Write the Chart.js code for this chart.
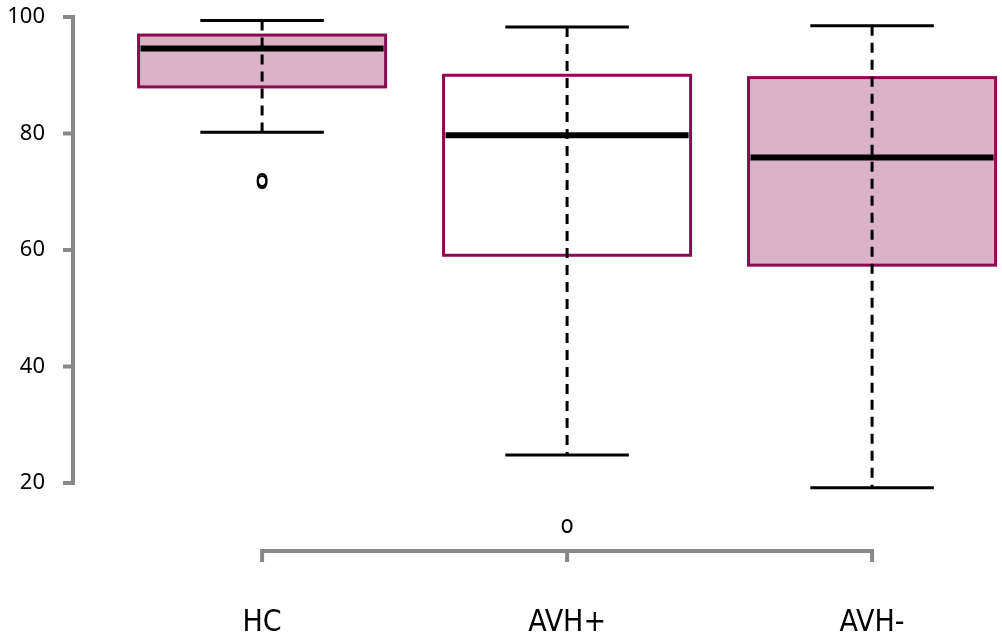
<!DOCTYPE html>
<html>
<head>
<meta charset="utf-8">
<style>
  html, body { margin: 0; padding: 0; background: #fff; }
  #wrap { width: 1002px; height: 636px; }
</style>
<script src="https://cdn.jsdelivr.net/npm/chart.js@4.4.1/dist/chart.umd.min.js"></script>
</head>
<body>
<div id="wrap"><canvas id="c"></canvas></div>
<script>
// box plot summaries
const groups = ['HC', 'AVH+', 'AVH-'];
const whiskerLow  = [80.2, 24.8, 19.2];
const quart1      = [88.0, 59.1, 57.4];
const medians     = [94.6, 79.7, 75.9];
const quart3      = [96.9, 90.0, 89.6];
const whiskerHigh = [99.4, 98.3, 98.5];
const outliers    = [[71.7, 72.0], [12.6], []];
const filled      = [true, false, true];
const yTicks      = [20, 40, 60, 80, 100];

const AXIS = '#888888';
const BORDER = '#8b0a50';
const FILL = '#dbb3c6';
const BOX_W = 0.81;

const boxPlot = {
    id: 'boxPlot',
    beforeDatasetsDraw(chart) {
        const { ctx, scales: { x, y } } = chart;
        ctx.save();

        // R-style detached axes
        ctx.strokeStyle = AXIS;
        ctx.lineWidth = 4;
        ctx.lineCap = 'butt';
        const yl = x.left;
        ctx.beginPath();
        ctx.moveTo(yl, y.getPixelForValue(yTicks[0]));
        ctx.lineTo(yl, y.getPixelForValue(yTicks[yTicks.length - 1]));
        yTicks.forEach(t => {
            const py = y.getPixelForValue(t);
            ctx.moveTo(yl + 2, py);
            ctx.lineTo(yl - 10, py);
        });
        ctx.stroke();

        const xb = y.bottom;
        ctx.beginPath();
        ctx.moveTo(x.getPixelForValue(1), xb);
        ctx.lineTo(x.getPixelForValue(groups.length), xb);
        groups.forEach((g, i) => {
            const px = x.getPixelForValue(i + 1);
            ctx.moveTo(px, xb - 2);
            ctx.lineTo(px, xb + 11);
        });
        ctx.stroke();

        groups.forEach((g, i) => {
            const c = i + 1;
            const cx = x.getPixelForValue(c);
            const x0 = x.getPixelForValue(c - BOX_W / 2);
            const x1 = x.getPixelForValue(c + BOX_W / 2);
            const c0 = x.getPixelForValue(c - BOX_W / 4);
            const c1 = x.getPixelForValue(c + BOX_W / 4);
            const yq1 = y.getPixelForValue(quart1[i]);
            const yq3 = y.getPixelForValue(quart3[i]);

            if (filled[i]) {
                ctx.fillStyle = FILL;
                ctx.fillRect(x0, yq3, x1 - x0, yq1 - yq3);
            }
            ctx.strokeStyle = BORDER;
            ctx.lineWidth = 3;
            ctx.strokeRect(x0, yq3, x1 - x0, yq1 - yq3);

            // whiskers
            ctx.strokeStyle = '#000';
            ctx.lineWidth = 3;
            ctx.setLineDash([10, 7]);
            ctx.beginPath();
            ctx.moveTo(cx, y.getPixelForValue(whiskerHigh[i]));
            ctx.lineTo(cx, y.getPixelForValue(whiskerLow[i]));
            ctx.stroke();
            ctx.setLineDash([]);

            ctx.beginPath();
            [whiskerHigh[i], whiskerLow[i]].forEach(v => {
                const py = y.getPixelForValue(v);
                ctx.moveTo(c0, py);
                ctx.lineTo(c1, py);
            });
            ctx.stroke();

            // median
            ctx.lineWidth = 6;
            ctx.beginPath();
            const ym = y.getPixelForValue(medians[i]);
            ctx.moveTo(x0 + 2, ym);
            ctx.lineTo(x1 - 2, ym);
            ctx.stroke();

            // outliers
            ctx.fillStyle = '#000';
            ctx.font = '24px "Liberation Sans Narrow", "DejaVu Sans Condensed", sans-serif';
            ctx.textAlign = 'center';
            ctx.textBaseline = 'middle';
            outliers[i].forEach(v => {
                ctx.fillText('o', cx, y.getPixelForValue(v) + 1);
            });
        });
        ctx.restore();
    }
};

new Chart(document.getElementById('c'), {
    type: 'scatter',
    data: { datasets: [{ data: [], pointRadius: 0 }] },
    options: {
        responsive: true,
        maintainAspectRatio: false,
        animation: false,
        layout: { padding: 0 },
        plugins: { legend: { display: false }, tooltip: { enabled: false } },
        scales: {
            x: {
                type: 'linear',
                position: 'bottom',
                min: 0.38,
                max: 3.426,
                afterBuildTicks: s => { s.ticks = groups.map((g, i) => ({ value: i + 1 })); },
                afterFit: s => { s.height = 85; s.paddingLeft = 0; s.paddingRight = 0; },
                grid: { display: false, drawTicks: false },
                border: { display: false },
                ticks: {
                    color: '#000',
                    padding: 54,
                    maxRotation: 0,
                    autoSkip: false,
                    font: { family: '"Liberation Sans Narrow", "DejaVu Sans Condensed", sans-serif', size: 30 },
                    callback: v => groups[v - 1] || ''
                }
            },
            y: {
                type: 'linear',
                position: 'left',
                min: 8.33,
                max: 102.92,
                afterBuildTicks: s => { s.ticks = yTicks.map(v => ({ value: v })); },
                afterFit: s => { s.width = 73; s.paddingTop = 0; s.paddingBottom = 0; },
                grid: { display: false, drawTicks: false },
                border: { display: false },
                ticks: {
                    color: '#000',
                    padding: 28,
                    autoSkip: false,
                    font: { family: '"Noto Sans", sans-serif', size: 22 }
                }
            }
        }
    },
    plugins: [boxPlot]
});
</script>
</body>
</html>
